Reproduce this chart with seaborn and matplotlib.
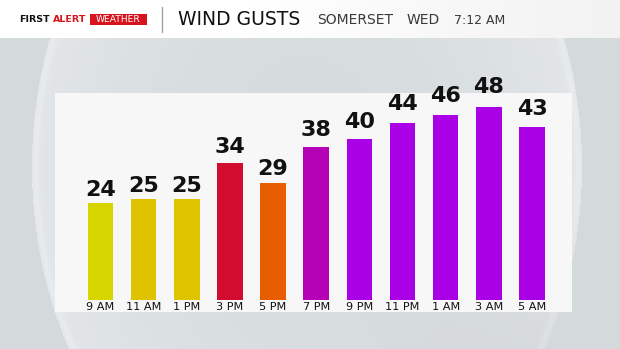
import numpy as np
import pandas as pd
import matplotlib
matplotlib.use("Agg")
import matplotlib.pyplot as plt
import seaborn as sns

# ---- data ----
times = ["9 AM", "11 AM", "1 PM", "3 PM", "5 PM", "7 PM", "9 PM", "11 PM", "1 AM", "3 AM", "5 AM"]
gusts = [24, 25, 25, 34, 29, 38, 40, 44, 46, 48, 43]
bar_colors = ["#d6d500", "#e0c300", "#e0c400", "#d20c2e", "#e75d00", "#b602b6",
              "#aa00e6", "#aa00e6", "#aa00e6", "#aa00e6", "#aa00e6"]
title = "WIND GUSTS"
location = "SOMERSET"
day = "WED"
clock = "7:12 AM"

sns.set_theme(style="white")
plt.rcParams['font.family'] = ['DejaVu Sans']

W, H = 620, 349
fig = plt.figure(figsize=(6.2, 3.49), dpi=100)

# ---- background (decorative) ----
bg = fig.add_axes([0, 0, 1, 1])
bg.axis('off')
yy, xx = np.mgrid[0:H, 0:W] + 0.5
cx, cy, a, b = 307.0, 167.0, 275.0, 363.0
r = np.sqrt(((xx - cx) / a) ** 2 + ((yy - cy) / b) ** 2)
base = np.array([212, 218, 220]) / 255.0
img = np.ones((H, W, 3)) * base
inside = r < 1.0
t = np.clip(r, 0, 1)[..., None]
c_center = np.array([214, 219, 221]) / 255.0
c_edge = np.array([226, 230, 232]) / 255.0
grad = c_center * (1 - t ** 2) + c_edge * t ** 2
rim = np.exp(-((r - 0.985) / 0.012) ** 2)[..., None]
grad = grad * (1 - 0.6 * rim) + np.array([236, 239, 241]) / 255.0 * 0.6 * rim
shade = np.clip((xx - 330) / 250.0, 0, 1) * np.clip((yy - 200) / 150.0, 0, 1)
grad = grad - 0.05 * shade[..., None]
img = np.where(inside[..., None], grad, img)
hdr = yy[:, :, None] < 38
hx = np.clip((xx - 250) / 370.0, 0, 1)[..., None]
hcol = np.ones(3) * (1 - hx) + np.array([242, 242, 242]) / 255.0 * hx
img = np.where(hdr, hcol, img)
bg.imshow(np.clip(img, 0, 1), extent=(0, W, H, 0), interpolation='bilinear', aspect='auto')
bg.set_xlim(0, W)
bg.set_ylim(H, 0)

# header texts
bg.text(19.5, 20, "FIRST", fontsize=6.8, fontweight='bold', color='#111111', va='center', ha='left')
bg.text(52.5, 20, "ALERT", fontsize=6.8, fontweight='bold', color='#d7141d', va='center', ha='left')
bg.add_patch(plt.Rectangle((90, 13.5), 57, 11, color='#d7141d', lw=0))
bg.text(118.5, 19.5, "WEATHER", fontsize=6.6, fontweight='normal', color='white', va='center', ha='center')
bg.plot([162, 162], [7, 32], color='#a0a0a0', lw=1)
bg.text(178, 19.5, title, fontsize=13.5, color='#111111', va='center', ha='left')
bg.text(317, 20, location, fontsize=10, color='#3a3a3a', va='center', ha='left')
bg.text(407, 20, day, fontsize=10, color='#3a3a3a', va='center', ha='left')
bg.text(454, 20, clock, fontsize=9, color='#3a3a3a', va='center', ha='left')

# ---- chart ----
px0, px1, py0, py1 = 54.5, 572.0, 92.5, 311.5
ax = fig.add_axes([px0 / W, (H - py1) / H, (px1 - px0) / W, (py1 - py0) / H])
ax.set_facecolor('#f7f7f7')
df = pd.DataFrame({"time": times, "gust": gusts})
sns.barplot(data=df, x="time", y="gust", hue="time", palette=bar_colors,
            legend=False, width=0.593, saturation=1, ax=ax, linewidth=0)
# value labels: spacing above bars grows with value in the reference
for i, v in enumerate(gusts):
    ax.text(i, v * 1.0625 + 0.3, f"{v}", ha='center', va='baseline',
            fontsize=16, fontweight='bold', color='#111111', clip_on=False)
ax.set_xlim(-1.066, 10.927)
ax.set_ylim(-2.85, 51.49)
ax.set_yticks([])
ax.set_xlabel("")
ax.set_ylabel("")
for s in ax.spines.values():
    s.set_visible(False)
ax.tick_params(axis='x', length=0, pad=-6.8, labelsize=8.1, colors='#111111')

fig.savefig("out.png", dpi=100)
